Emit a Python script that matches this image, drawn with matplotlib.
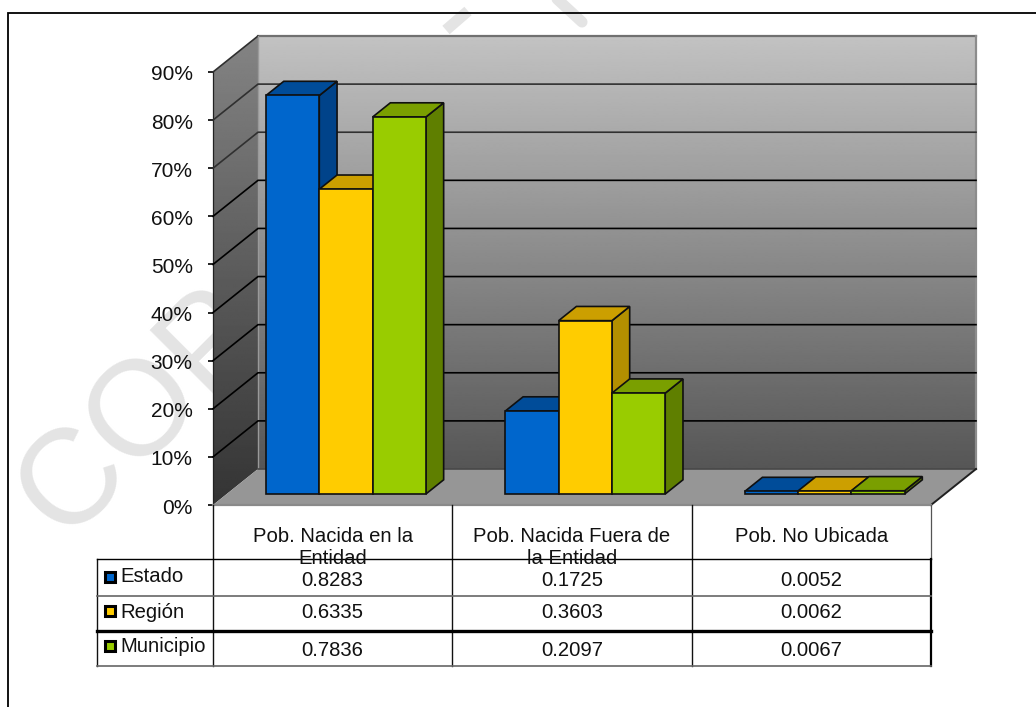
import numpy as np
import matplotlib
matplotlib.use("Agg")
import matplotlib.pyplot as plt
from matplotlib.patches import Polygon
from matplotlib.transforms import ScaledTranslation

plt.rcParams['font.family'] = ['Liberation Sans', 'DejaVu Sans']

categories = ["Pob. Nacida en la\nEntidad", "Pob. Nacida Fuera de\nla Entidad", "Pob. No Ubicada"]
series_names = ["Estado", "Región", "Municipio"]
estado = [0.8283, 0.1725, 0.0052]
region = [0.6335, 0.3603, 0.0062]
municipio = [0.7836, 0.2097, 0.0067]
series_values = [estado, region, municipio]
y_ticks = [0, .1, .2, .3, .4, .5, .6, .7, .8, .9]
y_labels = ["0%", "10%", "20%", "30%", "40%", "50%", "60%", "70%", "80%", "90%"]
front_colors = ["#0066CC", "#FFCC00", "#99CC00"]
top_colors = ["#004C99", "#CC9F00", "#7A9F00"]
side_colors = ["#00438A", "#B38F00", "#5F7F00"]

W, H = 1036, 707
fig = plt.figure(figsize=(W / 100, H / 100), dpi=100, facecolor="white")

# page layer (pixel coordinates)
bg = fig.add_axes([0, 0, 1, 1], zorder=0)
bg.set_xlim(0, W); bg.set_ylim(H, 0); bg.axis("off")
bg.plot([8, 8, W], [H, 13, 13], color="black", lw=1.3, solid_joinstyle="miter", zorder=5)
bg.text(63, 541, "COPIA", fontsize=97, rotation=45, rotation_mode="anchor",
        ha="left", va="baseline", color="#e4e4e4", zorder=1)
bg.plot([446, 468], [30, 11], color="#e4e4e4", lw=8, solid_capstyle="butt", zorder=1)
bg.plot([556, 582], [-2, 22], color="#e4e4e4", lw=8, solid_capstyle="round", zorder=1)

# chart layer
ax = fig.add_axes([213 / W, (H - 505) / H, 718 / W, 433 / H], zorder=1)
ax.patch.set_visible(False)
DX = 45 / (718 / 3)
DY = 36 / (433 / 0.9)
YMAX = 0.9
NCAT = len(categories)


def proj(x, y, f):
    return (x + f * DX, y + f * DY)


def grad(extent, top, bottom, poly):
    g = np.linspace(top, bottom, 256).reshape(-1, 1)
    im = ax.imshow(g, cmap="gray", vmin=0, vmax=255, extent=extent, aspect="auto",
                   origin="upper", zorder=1, interpolation="bilinear")
    clip = Polygon(poly, transform=ax.transData, fill=False, edgecolor="none")
    ax.add_patch(clip)
    clip.set_clip_on(False)
    im.set_clip_path(clip)
    im.set_clip_box(fig.bbox)


back = [proj(0, 0, 1), proj(NCAT, 0, 1), proj(NCAT, YMAX, 1), proj(0, YMAX, 1)]
left = [proj(0, 0, 0), proj(0, 0, 1), proj(0, YMAX, 1), proj(0, YMAX, 0)]
floor = [proj(0, 0, 0), proj(NCAT, 0, 0), proj(NCAT, 0, 1), proj(0, 0, 1)]

grad([DX, NCAT + DX, DY, YMAX + DY], 194, 86, back)
grad([0, DX, 0, YMAX + DY], 132, 52, left)
ax.add_patch(Polygon(floor, closed=True, facecolor="#969696", edgecolor="none", zorder=2, clip_on=False))

# wall and floor edges
for pts, col, lw in [
    ([proj(0, YMAX, 1), proj(NCAT, YMAX, 1)], "#707070", 1.6),
    ([proj(NCAT, YMAX, 1), proj(NCAT, 0, 1)], "#8c8c8c", 1.6),
    ([proj(0, YMAX, 0), proj(0, YMAX, 1)], "#303030", 1.2),
    ([proj(0, YMAX, 1), proj(0, 0, 1)], "#9a9a9a", 1.0),
    ([proj(0, 0, 1), proj(NCAT, 0, 1)], "#484848", 1.2),
    ([proj(NCAT, 0, 0), proj(NCAT, 0, 1)], "#202020", 1.4),
    ([proj(0, 0, 0), proj(NCAT, 0, 0)], "#8a8a8a", 1.6),
]:
    xs, ys = zip(*pts)
    ax.plot(xs, ys, color=col, lw=lw, zorder=3, clip_on=False)

# gridlines on both walls
for t in y_ticks[1:-1]:
    col = "black" if t < 0.65 else "#303030"
    p0, p1, p2 = proj(0, t, 0), proj(0, t, 1), proj(NCAT, t, 1)
    ax.plot([p0[0], p1[0], p2[0]], [p0[1], p1[1], p2[1]], color=col, lw=1.2,
            zorder=3, clip_on=False, solid_joinstyle="miter")

# 3D columns
F0, F1 = 0.3056, 0.70
BAR_W = 53.3 / (718 / 3)
GAP = 39.25 / (718 / 3)
z = 4
for c in range(NCAT):
    for s, vals in enumerate(series_values):
        x0 = c + GAP + s * BAR_W
        x1 = x0 + BAR_W
        v = vals[c]
        edge = dict(edgecolor="#101010", linewidth=1.2, joinstyle="miter", clip_on=False)
        side = [proj(x1, 0, F0), proj(x1, 0, F1), proj(x1, v, F1), proj(x1, v, F0)]
        top = [proj(x0, v, F0), proj(x1, v, F0), proj(x1, v, F1), proj(x0, v, F1)]
        front = [proj(x0, 0, F0), proj(x1, 0, F0), proj(x1, v, F0), proj(x0, v, F0)]
        ax.add_patch(Polygon(side, facecolor=side_colors[s], zorder=z, **edge))
        ax.add_patch(Polygon(top, facecolor=top_colors[s], zorder=z, **edge))
        ax.add_patch(Polygon(front, facecolor=front_colors[s], zorder=z, **edge))
        z += 1

ax.set_xlim(0, NCAT)
ax.set_ylim(0, YMAX)
ax.set_xticks([])
ax.set_yticks(y_ticks)
ax.set_yticklabels(y_labels, fontsize=15, color="#111111", va="center")
ax.tick_params(axis="y", length=3.6, width=1.2, pad=11, color="black")
shift = ScaledTranslation(0, -3 / 100, fig.dpi_scale_trans)
for lab in ax.get_yticklabels():
    lab.set_transform(lab.get_transform() + shift)
for name, sp in ax.spines.items():
    sp.set_visible(name == "left")
ax.spines["left"].set_linewidth(0.9)
ax.spines["left"].set_color("#222222")

# data table layer (pixel coordinates)
tb = fig.add_axes([0, 0, 1, 1], zorder=2)
tb.patch.set_visible(False)
tb.set_xlim(0, W); tb.set_ylim(H, 0); tb.axis("off")
col_x = [213, 452.3, 691.6, 931]
row_y = [559, 596, 631, 666]
row_text_y = [580, 613, 650]
swatch_y = [577, 611, 646]
legend_y = [577, 613, 647]

tb.plot([213, 213], [505, 666], color="#111111", lw=1.0)
tb.plot([452.3, 452.3], [505, 666], color="#111111", lw=1.0)
tb.plot([691.6, 691.6], [505, 666], color="#111111", lw=1.0)
tb.plot([931, 931], [505, 559], color="#555555", lw=0.9)
tb.plot([931, 931], [559, 666], color="black", lw=1.6)
tb.plot([97, 97], [559, 666], color="#111111", lw=1.0)
tb.plot([97, 931], [row_y[0]] * 2, color="black", lw=1.0)
tb.plot([97, 931], [row_y[1]] * 2, color="#666666", lw=1.2)
tb.plot([97, 931], [row_y[2]] * 2, color="black", lw=2.4)
tb.plot([97, 931], [row_y[3]] * 2, color="#666666", lw=1.2)

for c, label in enumerate(categories):
    cx = (col_x[c] + col_x[c + 1]) / 2
    tb.text(cx, 527, label, ha="center", va="top", fontsize=14.6, color="#111111",
            linespacing=1.22)
    for r, vals in enumerate(series_values):
        tb.text(cx, row_text_y[r], f"{vals[c]:.4f}", ha="center", va="center",
                fontsize=14.6, color="#111111")

for r, name in enumerate(series_names):
    tb.plot([110], [swatch_y[r]], marker="s", ms=7.4, mfc=front_colors[r], mec="black",
            mew=2.2, linestyle="none")
    tb.text(120, legend_y[r], name, ha="left", va="center", fontsize=14.6, color="#111111")

fig.savefig("out.png", dpi=100)
